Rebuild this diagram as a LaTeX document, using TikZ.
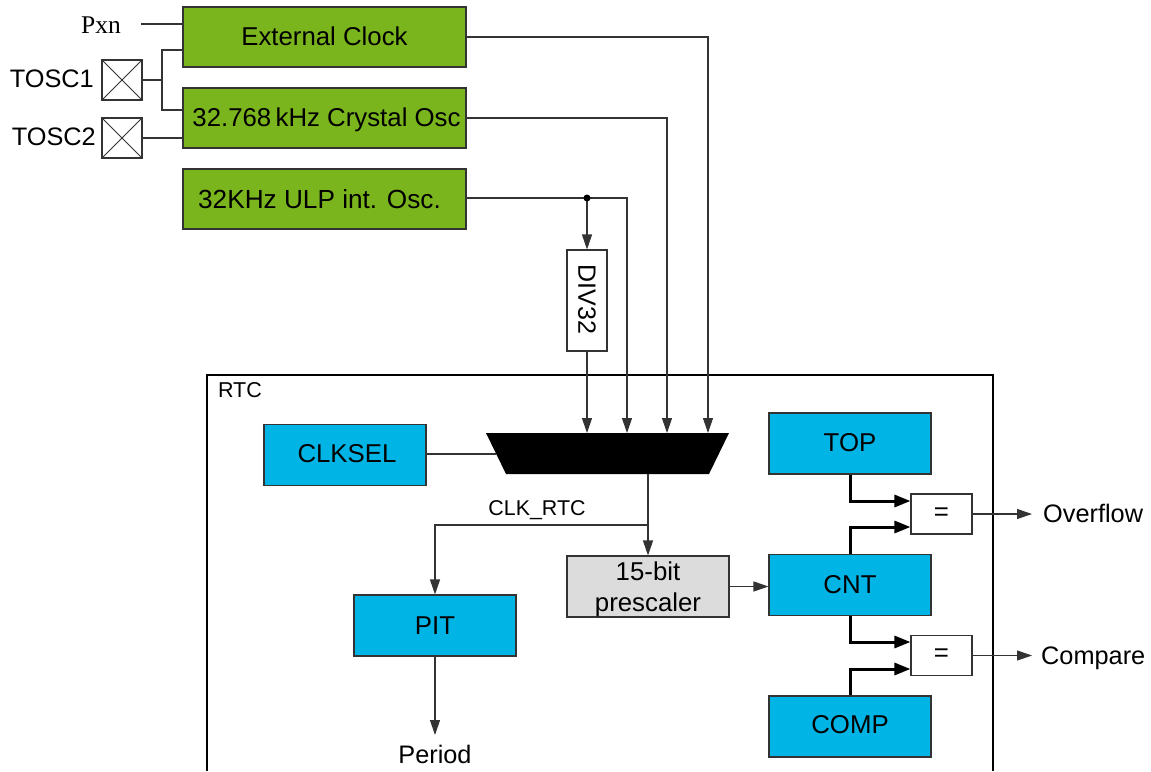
\documentclass[tikz,border=0pt]{standalone}
\usepackage{fontspec}
\setmainfont{Liberation Sans}
\newfontfamily\serifface{Liberation Serif}
\usetikzlibrary{arrows.meta,calc}
\definecolor{oscgreen}{HTML}{7AB51D}
\definecolor{regblue}{HTML}{00B5E6}
\definecolor{pregray}{HTML}{DCDCDC}
\definecolor{edge}{HTML}{333333}
\newcommand{\bigtxt}{\fontsize{25.8}{31}\selectfont}
\newcommand{\midtxt}{\fontsize{25.3}{30}\selectfont}
\tikzset{
  x=1pt,y=-1pt,
  blk/.style={draw=edge,line width=1.1pt,inner sep=0pt,align=center,font=\bigtxt},
  osc/.style={blk,fill=oscgreen,minimum width=283pt,minimum height=60pt},
  reg/.style={blk,fill=regblue,minimum width=162pt,minimum height=61pt},
  eqbox/.style={blk,fill=white,minimum width=61pt,minimum height=40pt},
  padbox/.style={draw=edge,line width=1.1pt,fill=white,minimum width=40pt,minimum height=40pt,inner sep=0pt},
  lab/.style={inner sep=0pt,font=\midtxt},
  wire/.style={draw=edge,line width=1.1pt},
  arr/.style={wire,-{Triangle[length=15pt,width=10pt]}},
  bus/.style={draw=black,line width=3pt,-{Triangle[length=16pt,width=12pt]}},
}
\begin{document}
\begin{tikzpicture}
\useasboundingbox (0,0) rectangle (1151,771);
\fill[white] (0,0) rectangle (1151,771);
% RTC frame, open at the bottom edge of the picture
\draw[black,line width=2pt] (207,771) -- (207,375) -- (993,375) -- (993,771);
\node[inner sep=0pt,font=\fontsize{21.5}{25}\selectfont] (rtc) at (240,390) {RTC};
% oscillators
\node[osc,text depth=2pt] (ext) at (324.5,37) {External Clock};
\node[osc,text depth=2pt] (xtal) at (324.5,118) {\hspace*{4pt}32.768\,kHz Crystal Osc};
\node[osc,font=\fontsize{26.2}{31}\selectfont] (ulp) at (324.5,199) {32KHz ULP int. Osc.\hspace*{10pt}};
% pads
\node[padbox] (tosca) at (122,80) {};
\node[padbox] (toscb) at (122,138) {};
\draw[wire,line width=0.9pt] (tosca.north west) -- (tosca.south east) (tosca.north east) -- (tosca.south west);
\draw[wire,line width=0.9pt] (toscb.north west) -- (toscb.south east) (toscb.north east) -- (toscb.south west);
\node[inner sep=0pt,anchor=east,font=\midtxt] (tosclaba) at (94,79) {TOSC1};
\node[inner sep=0pt,anchor=east,font=\midtxt] (tosclabb) at (96,137) {TOSC2};
\node[inner sep=0pt,font=\serifface\fontsize{25.5}{30}\selectfont] (pxn) at (101,25) {Pxn};
\coordinate (pxnend) at (141,24);
\coordinate (jn) at (162,80);
\draw[wire] (pxnend) -- (pxnend -| ext.west);
\draw[wire] (tosca.east) -- (jn);
\draw[wire] (ext.west |- 0,50) -| (jn) |- (xtal.west |- 0,110);
\draw[wire] (toscb.east) -- (toscb.east -| xtal.west);
% mux
\fill[black] (486,433) -- (729,433) -- (709,474) -- (506,474) -- cycle;
\coordinate (muxleft) at (496,454);
\coordinate (ina) at (587,433);
\coordinate (inb) at (627,433);
\coordinate (inc) at (667,433);
\coordinate (ind) at (708,433);
\coordinate (muxout) at (648,474);
% DIV32
\node[blk,fill=white,minimum width=40pt,minimum height=101pt] (div) at (587,300.5) {\rotatebox{-90}{\fontsize{25}{30}\selectfont DIV32\hspace*{2pt}}};
\coordinate (tap) at (587,198);
\draw[arr] (ext.east) -| (ind);
\draw[arr] (xtal.east) -| (inc);
\draw[arr] (ulp.east |- tap) -| (inb);
\draw[arr] (tap) -- (div.north);
\fill[black] (tap) circle (3.5);
\draw[arr] (div.south) -- (ina);
% RTC internals
\node[reg,text depth=4pt] (clksel) at (345,455) {\hspace*{4pt}CLKSEL};
\draw[wire] (clksel.east |- muxleft) -- (muxleft);
\node[reg,text depth=3pt] (top) at (850,443.5) {TOP};
\node[reg,text depth=2pt] (cnt) at (850,585) {CNT};
\node[reg,text depth=4pt] (comp) at (850,726.5) {COMP};
\node[reg] (pit) at (435,625.5) {PIT};
\node[blk,fill=pregray,minimum width=162pt,minimum height=61pt] (pre) at (648,586.5) {\rule{0pt}{24pt}15-bit\\prescaler};
\node[eqbox] (eqa) at (941.5,514) {=};
\node[eqbox] (eqb) at (941.5,655.5) {=};
\coordinate (clkjn) at (648,525);
\draw[arr] (muxout) -- (pre.north);
\draw[arr] (clkjn) -| (pit.north);
\node[inner sep=0pt,font=\fontsize{21.4}{25}\selectfont] (clk) at (537,510) {CLK\_RTC};
\draw[arr] (pre.east) -- (pre.east -| cnt.west);
% buses
\draw[bus] (top.south) |- (eqa.west |- 0,501);
\draw[bus] (cnt.north) |- (eqa.west |- 0,527);
\draw[bus] (cnt.south) |- (eqb.west |- 0,642);
\draw[bus] (comp.north) |- (eqb.west |- 0,669);
% outputs
\node[lab,anchor=west] (ovf) at (1043,513) {Overflow};
\node[lab,anchor=west] (cmp) at (1041,658) {Compare};
\node[lab] (period) at (435,754) {Period};
\coordinate (ovfend) at (1032,514);
\coordinate (cmpend) at (1032,655.5);
\coordinate (perend) at (435,735);
\draw[arr] (eqa.east) -- (ovfend);
\draw[arr] (eqb.east) -- (cmpend);
\draw[arr] (pit.south) -- (perend);
\end{tikzpicture}
\end{document}
